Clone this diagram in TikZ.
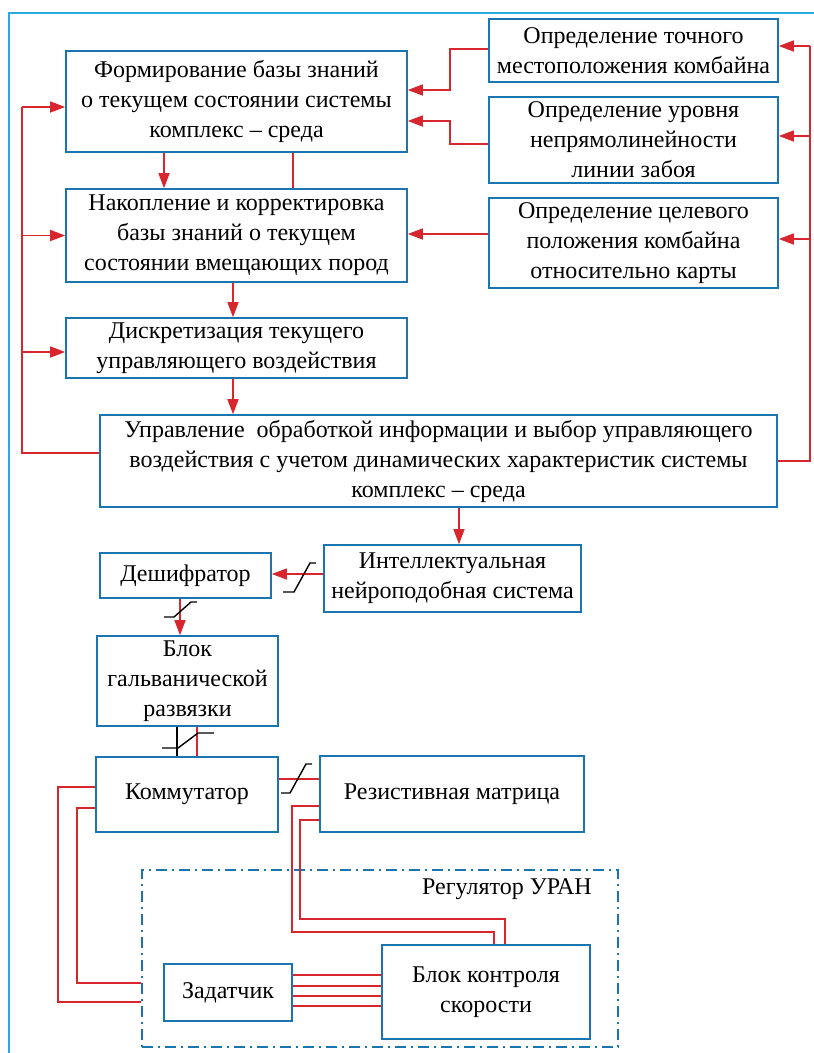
\documentclass[tikz,border=0pt]{standalone}
\usepackage{fontspec}
\setmainfont{Liberation Serif}
\usetikzlibrary{arrows.meta,calc}
\definecolor{boxblue}{HTML}{1B75B0}
\definecolor{frameblue}{HTML}{2AAAE0}
\definecolor{linered}{HTML}{D7262E}
\begin{document}
\begin{tikzpicture}[x=1pt,y=-1pt,
  box/.style={draw=boxblue,line width=1.6pt,align=center,inner sep=0pt,
    font=\fontsize{24}{30}\selectfont},
  rl/.style={draw=linered,line width=1.5pt},
  arr/.style={rl,-{Triangle[length=15pt,width=11pt]}},
  brk/.style={draw=black,line width=1.4pt},
  regframe/.style={draw=boxblue,line width=1.5pt,dash pattern=on 11pt off 5pt on 2pt off 5pt}]
\useasboundingbox (0,0) rectangle (814,1053);
% outer light frame
\draw[frameblue,line width=1.5pt] (9,1053) -- (9,13) -- (814,13);

% upper block
\node[box,minimum width=341pt,minimum height=101pt] (B1) at (236.5,101.5)
  {Формирование базы знаний\\о текущем состоянии системы\\комплекс -- среда};
\node[box,minimum width=341pt,minimum height=93pt] (B2) at (236.5,235.5)
  {Накопление и корректировка\\базы знаний о текущем\\состоянии вмещающих пород};
\node[box,minimum width=341pt,minimum height=60pt] (B3) at (236.5,348)
  {Дискретизация текущего\\управляющего воздействия};
\node[box,minimum width=677pt,minimum height=92pt] (B4) at (438.5,461)
  {Управление\ \ обработкой информации и выбор управляющего\\воздействия с учетом динамических характеристик системы\\комплекс -- среда};
\node[box,minimum width=289pt,minimum height=63pt] (R1) at (633.5,50.5)
  {Определение точного\\местоположения комбайна};
\node[box,minimum width=289pt,minimum height=86pt] (R2) at (633.5,140)
  {Определение уровня\\непрямолинейности\\линии забоя};
\node[box,minimum width=289pt,minimum height=90pt] (R3) at (633.5,243)
  {Определение целевого\\положения комбайна\\относительно карты};

% lower block
\node[box,minimum width=257pt,minimum height=67pt] (Int) at (452.5,578.5)
  {Интеллектуальная\\нейроподобная система};
\node[box,minimum width=171pt,minimum height=45pt] (Desh) at (185.5,575.5)
  {Дешифратор};
\node[box,minimum width=181pt,minimum height=90pt] (Galv) at (187.5,681)
  {Блок\\гальванической\\развязки};
\node[box,minimum width=182pt,minimum height=75pt] (Komm) at (187,794.5)
  {Коммутатор};
\node[box,minimum width=264pt,minimum height=76pt] (Rez) at (452,794)
  {Резистивная матрица};
\node[regframe,minimum width=476pt,minimum height=177pt,inner sep=0pt] (Reg) at (380,958.5) {};
\node[anchor=east,inner sep=0pt,font=\fontsize{24}{28}\selectfont] (RegL) at (592,889) {Регулятор УРАН};
\node[box,minimum width=128pt,minimum height=57pt] (Zad) at (228,992.5)
  {Задатчик};
\node[box,minimum width=208pt,minimum height=94pt] (Blok) at (486,992)
  {Блок контроля\\скорости};

% helper coordinates on node borders
\coordinate (r1w) at ($(R1.west)+(0,-1.5)$);
\coordinate (r2w) at ($(R2.west)+(0,4)$);
\coordinate (r3w) at ($(R3.west)+(0,-9)$);
\coordinate (b1e1) at ($(B1.east)+(0,-11.5)$);
\coordinate (b1e2) at ($(B1.east)+(0,19.5)$);
\coordinate (r2e) at ($(R2.east)+(0,-4)$);
\coordinate (r3e) at ($(R3.east)+(0,-4)$);
\coordinate (b4w) at ($(B4.west)+(0,-8)$);
\coordinate (b3w) at ($(B3.west)+(0,4)$);
\coordinate (b1s1) at ($(B1.south)+(-72.5,0)$);
\coordinate (b1s2) at ($(B1.south)+(56.5,0)$);
\coordinate (b2s) at ($(B2.south)+(-3.5,0)$);
\coordinate (b3s) at ($(B3.south)+(-3.5,0)$);
\coordinate (b4s) at ($(B4.south)+(20.5,0)$);
\coordinate (intw) at ($(Int.west)+(0,-4.5)$);
\coordinate (dshs) at ($(Desh.south)+(-5.5,0)$);
\coordinate (gs1) at ($(Galv.south)+(-10.5,0)$);
\coordinate (gs2) at ($(Galv.south)+(9.5,0)$);
\coordinate (ke) at ($(Komm.east)+(0,-15.5)$);

% right column -> B1, B2
\draw[arr] (r1w) -- ++(-38,0) |- (b1e1);
\draw[arr] (r2w) -- ++(-38,0) |- (b1e2);
\draw[arr] (r3w) -- (r3w -| B2.east);

% right feedback line
\coordinate (RT) at (810,46);
\draw[rl] (B4.east) -| (RT);
\draw[arr] (RT) -- (RT -| R1.east);
\draw[arr] (r2e -| RT) -- (r2e);
\draw[arr] (r3e -| RT) -- (r3e);

% left feedback line
\coordinate (LT) at (22,107);
\draw[rl] (b4w) -| (LT);
\draw[arr] (LT) -- (LT -| B1.west);
\draw[arr] (B2.west -| LT) -- (B2.west);
\draw[arr] (b3w -| LT) -- (b3w);

% vertical chain
\draw[arr] (b1s1) -- (b1s1 |- B2.north);
\draw[rl] (b1s2) -- (b1s2 |- B2.north);
\draw[arr] (b2s) -- (b2s |- B3.north);
\draw[arr] (b3s) -- (b3s |- B4.north);
\draw[arr] (b4s) -- (b4s |- Int.north);

% lower connections
\draw[arr] (intw) -- (intw -| Desh.east);
\draw[brk] (283,592) -- (294,592) -- (310,563) -- (316,563);
\draw[arr] (dshs) -- (dshs |- Galv.north);
\draw[brk] (164,617) -- (174,617) -- (191,602) -- (197,602);
\draw[brk] (gs1) -- (gs1 |- Komm.north);
\draw[rl] (gs2) -- (gs2 |- Komm.north);
\draw[brk] (162,748) -- (178,748) -- (198,733) -- (214,733);
\draw[rl] (ke) -- (ke -| Rez.west);
\draw[brk] (281,793) -- (290,793) -- (306,764) -- (312,764);

% Kommutator -> regulator
\coordinate (kw1) at ($(Komm.west)+(0,-7.5)$);
\coordinate (kw2) at ($(Komm.west)+(0,13.5)$);
\coordinate (rw1) at ($(Reg.west)+(0,43.5)$);
\coordinate (rw2) at ($(Reg.west)+(0,24.5)$);
\draw[rl] (kw1) -- ++(-37,0) |- (rw1);
\draw[rl] (kw2) -- ++(-18,0) |- (rw2);
% resistive matrix -> speed control
\coordinate (zw1) at ($(Rez.west)+(0,12)$);
\coordinate (zw2) at ($(Rez.west)+(0,26)$);
\coordinate (bn1) at ($(Blok.north)+(8,0)$);
\coordinate (bn2) at ($(Blok.north)+(19,0)$);
\draw[rl] (zw1) -- ++(-27,0) |- ($(bn1)+(0,-12)$) -- (bn1);
\draw[rl] (zw2) -- ++(-19,0) |- ($(bn2)+(0,-25)$) -- (bn2);
% zadatchik <-> speed control
\foreach \d [count=\i] in {-17.5,-6.5,3.5,13.5}{
  \coordinate (ze\i) at ($(Zad.east)+(0,\d)$);
  \draw[rl] (ze\i) -- (ze\i -| Blok.west);
}
\end{tikzpicture}
\end{document}
